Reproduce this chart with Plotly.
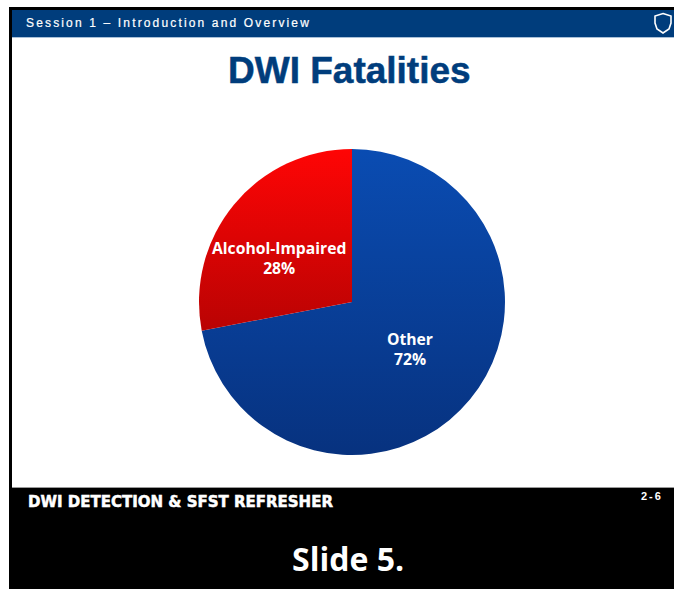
import plotly.graph_objects as go

W, H = 674, 589
slice_labels = ["Other", "Alcohol-Impaired"]
slice_values = [72, 28]
slice_colors = ["#0a429f", "#dc0505"]
title_text = "DWI Fatalities"
header_text = "Session 1 – Introduction and Overview"
footer_text = "DWI DETECTION &amp; SFST REFRESHER"
page_text = "2-6"
caption_text = "Slide 5."


def px(x):
    return x / W


def py(y):
    return 1 - y / H


def rect(x0, y0, x1, y1, color):
    return dict(type="rect", xref="paper", yref="paper", x0=px(x0), x1=px(x1),
                y0=py(y1), y1=py(y0), fillcolor=color, line_width=0, layer="below")


def text(x, y, s, size, color, family, xanchor="center", bold=False):
    return dict(xref="paper", yref="paper", x=px(x), y=py(y), text=f"<b>{s}</b>" if bold else s,
                showarrow=False, xanchor=xanchor, yanchor="middle", borderpad=0,
                font=dict(size=size, color=color, family=family))


fig = go.Figure(go.Pie(
    labels=slice_labels, values=slice_values, sort=False, direction="clockwise", rotation=0,
    marker=dict(colors=slice_colors, line=dict(width=0)),
    textinfo="none",
    showlegend=False, hoverinfo="label+percent",
    domain=dict(x=[px(199), px(505)], y=[py(455), py(149)]),
))

# shield outline in the header (pixel-space path converted to paper coordinates)
shield = [(663, 13.5), (671, 16), (671, 23), (669, 29), (663, 33), (657, 29), (655, 23), (655, 16)]
shield_path = "M" + " L".join(f"{px(x)} {py(y)}" for x, y in shield) + " Z"

label_family = "Open Sans"
fig.update_layout(
    width=W, height=H, autosize=False, margin=dict(l=0, r=0, t=0, b=0),
    paper_bgcolor="white", plot_bgcolor="white",
    shapes=[
        rect(9, 7, W, H, "black"),
        rect(12, 10, W, 488, "white"),
        rect(12, 10, W, 37, "#003d7c"),
        rect(12, 37, W, 38, "#a9c0d8"),
        rect(12, 487, W, 488, "#9a9a9a"),
        rect(9, 488, W, H, "black"),
        dict(type="path", xref="paper", yref="paper", path=shield_path,
             line=dict(color="white", width=1.6), fillcolor="rgba(0,0,0,0)"),
    ],
    annotations=[
        text(25, 23, header_text, 12, "white", "Liberation Sans", xanchor="left"),
        text(349.5, 70, title_text, 37, "#003d7c", "Liberation Sans", bold=True),
        text(27, 501.5, footer_text, 15, "white", "DejaVu Sans", xanchor="left", bold=True),
        text(640, 496, page_text, 11, "white", "Liberation Sans", xanchor="left", bold=True),
        text(347.5, 558, caption_text, 32, "white", "Open Sans", bold=True),
        text(278.5, 257.5, f"<b>{slice_labels[1]}</b><br><b>{slice_values[1]}%</b>", 15.7, "white", label_family),
        text(410, 348.5, f"<b>{slice_labels[0]}</b><br><b>{slice_values[0]}%</b>", 15.7, "white", label_family),
    ],
)

post = """
document.documentElement.style.margin = '0';
document.body.style.margin = '0';
document.body.style.overflow = 'hidden';
var gd = document.querySelector('.plotly-graph-div');
var svg = gd.querySelector('svg.main-svg');
var ns = 'http://www.w3.org/2000/svg';
var defs = svg.querySelector('defs');
function grad(id, c0, c1) {
  var g = document.createElementNS(ns, 'linearGradient');
  g.setAttribute('id', id); g.setAttribute('x1', 0); g.setAttribute('x2', 0);
  g.setAttribute('y1', 0); g.setAttribute('y2', 1);
  [[0, c0], [1, c1]].forEach(function (s) {
    var st = document.createElementNS(ns, 'stop');
    st.setAttribute('offset', s[0]); st.setAttribute('stop-color', s[1]);
    g.appendChild(st);
  });
  defs.appendChild(g);
}
grad('gBlue', '#0a4cb2', '#07327f');
grad('gRed', '#ff0505', '#b90303');
var surf = gd.querySelectorAll('.slice path.surface');
if (surf[0]) surf[0].style.fill = 'url(#gBlue)';
if (surf[1]) surf[1].style.fill = 'url(#gRed)';
gd.querySelectorAll('.annotation-text').forEach(function (t) {
  var s = t.textContent;
  var spacing = s.indexOf('Session') === 0 ? '2.15px' : (s === '2-6' ? '2px' : null);
  if (spacing) {
    var left = t.getBBox().x;
    t.style.textAnchor = 'start';
    t.setAttribute('x', left);
    t.style.letterSpacing = spacing;
  }
  if (s.indexOf('DWI DETECTION') === 0) {
    t.style.stroke = 'white'; t.style.strokeWidth = '0.5px';
  }
  if (s === 'DWI Fatalities') {
    t.style.stroke = '#003d7c'; t.style.strokeWidth = '0.5px';
  }
  if (s.indexOf('Session') === 0) {
    t.style.stroke = 'white'; t.style.strokeWidth = '0.2px';
  }
});
"""
fig.write_html("out.html", post_script=post, config=dict(displayModeBar=False))
